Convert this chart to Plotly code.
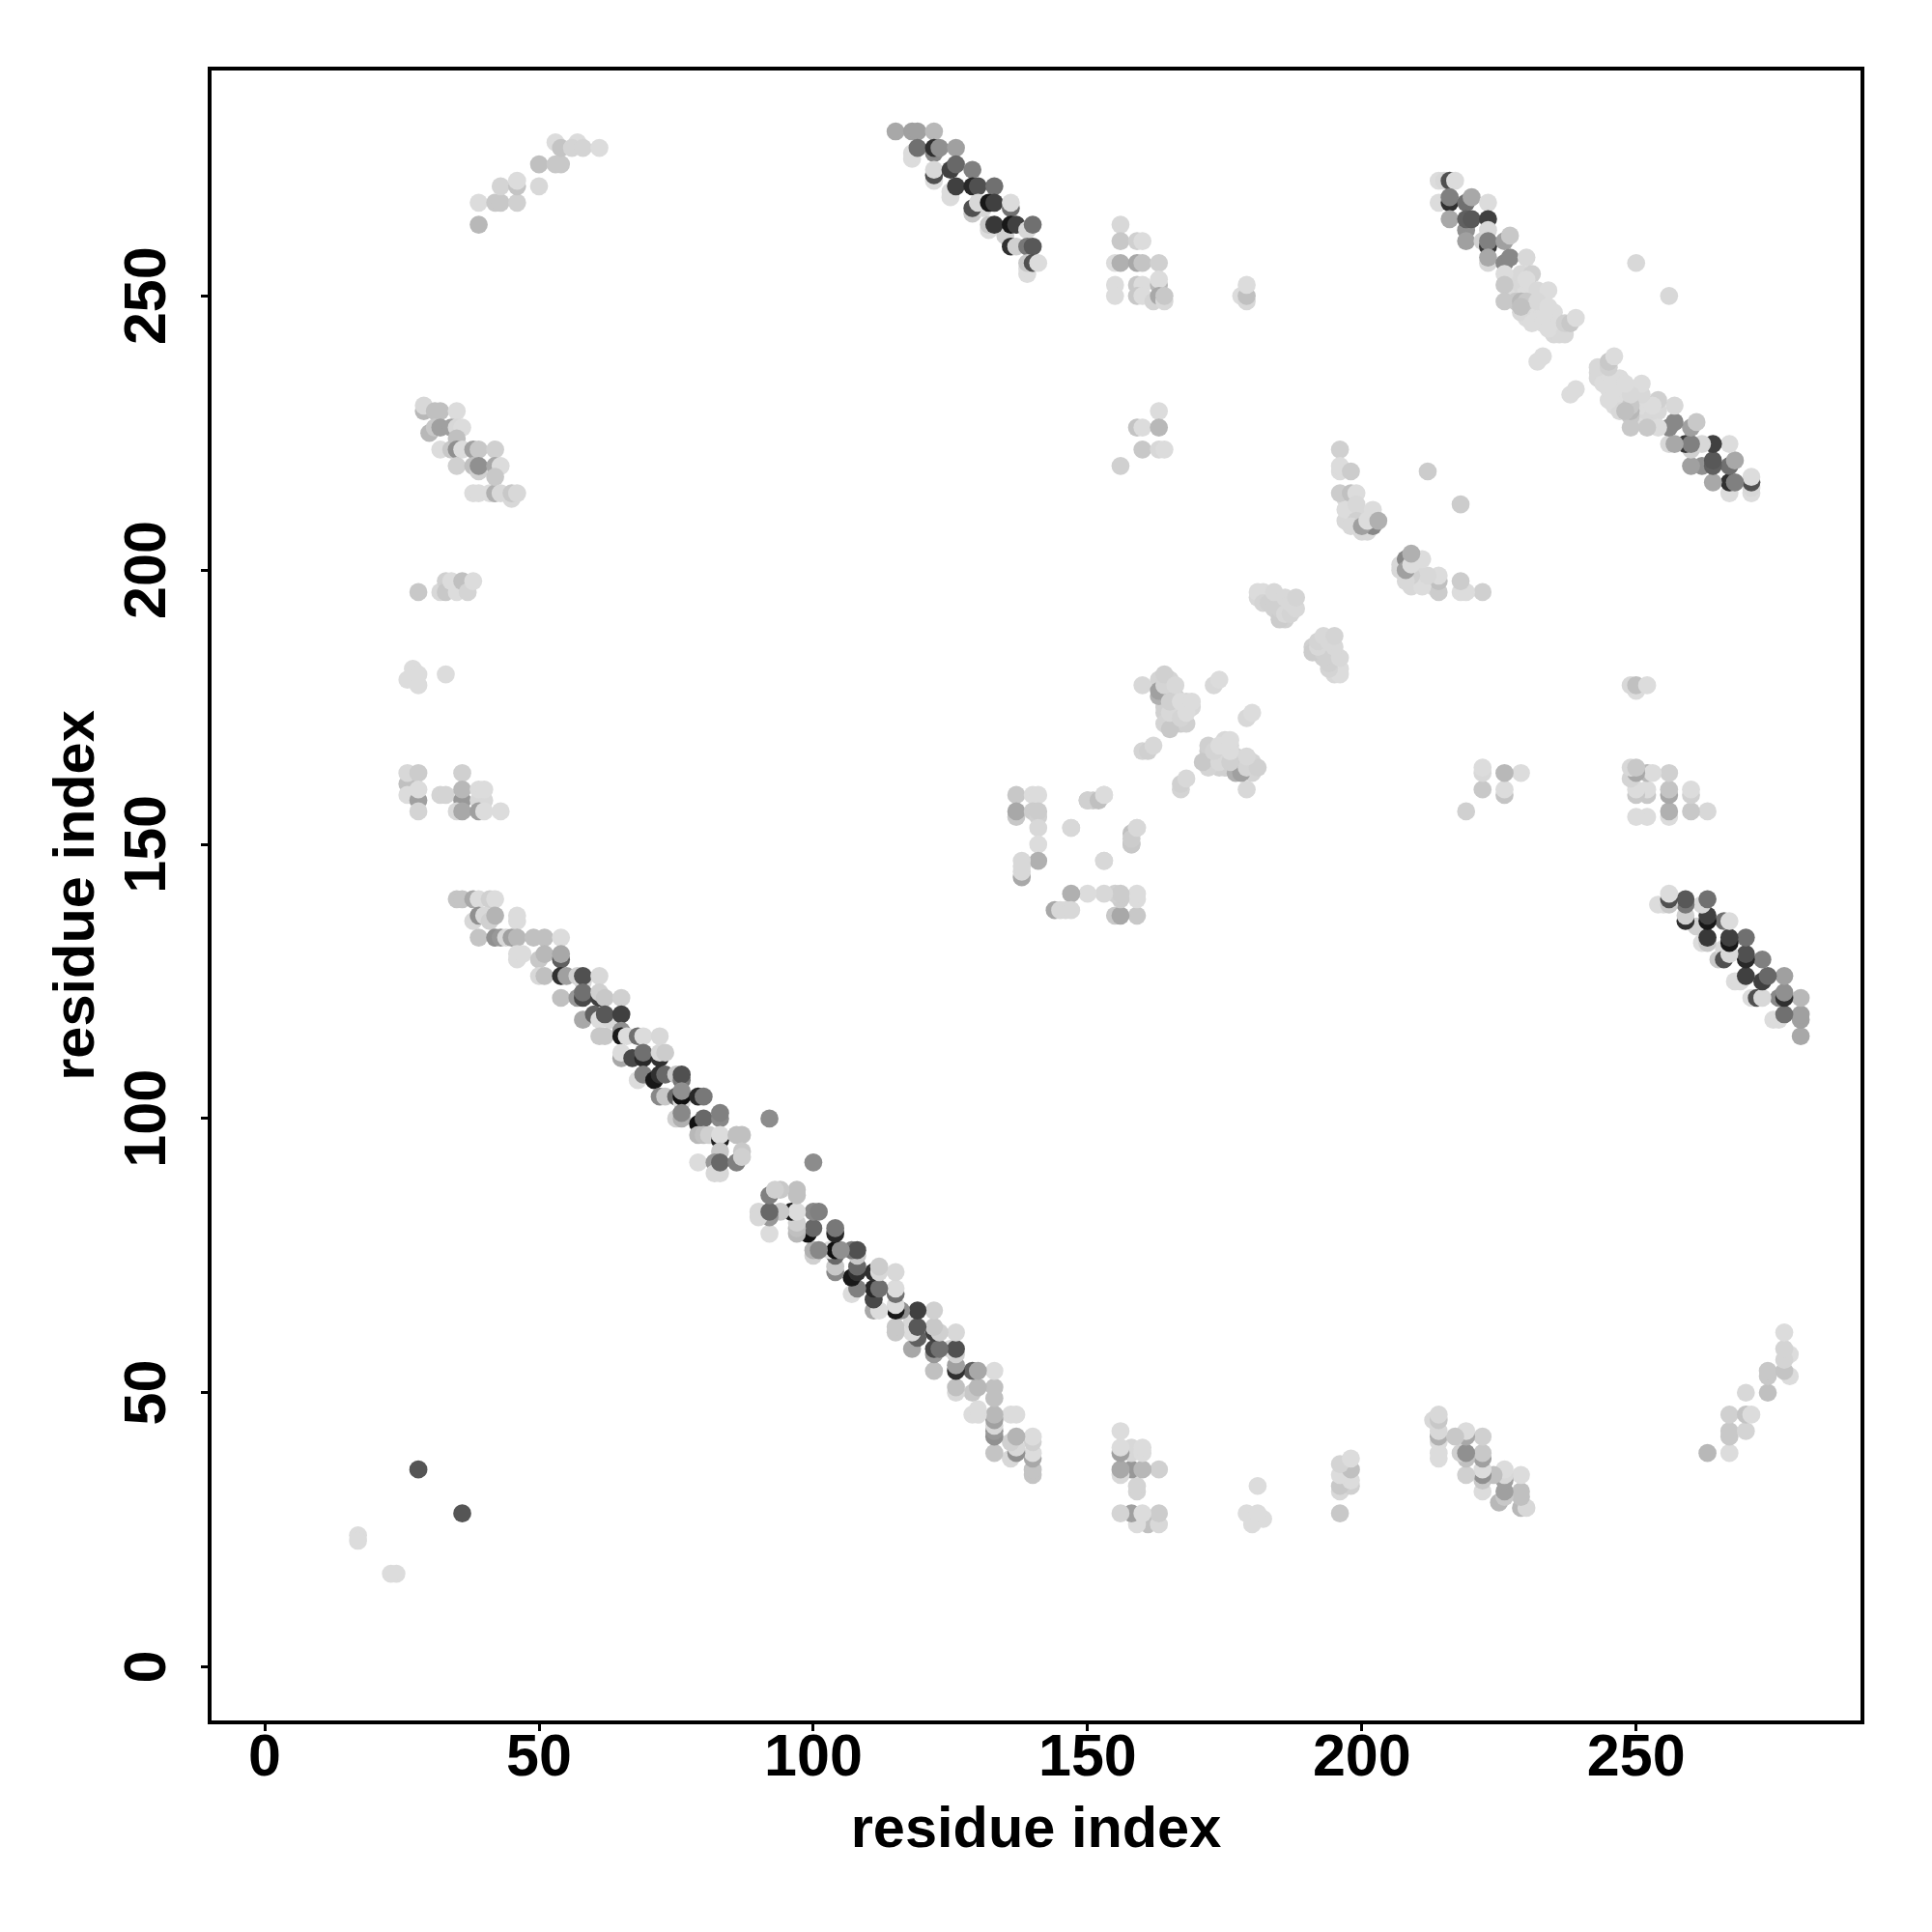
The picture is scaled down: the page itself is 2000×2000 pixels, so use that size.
import plotly.graph_objects as go

# contact pairs: (residue i, residue j, grey level); the map is symmetric
isolated = [(17,24,0xdc),(17,23,0xdc),(28,36,0x55),(92,100,0x8c),(250,256,0xd8),(212,218,0xcc)]

band_main = [
(35,140,0xc4),(36,140,0xc4),(38,140,0xa8),(39,140,0xdc),(41,140,0xd0),(42,140,0xdc),
(38,136,0xd8),(39,137,0x90),(40,137,0xd8),(41,136,0xd0),(42,137,0xb4),(46,136,0xdc),(46,137,0xdc),
(39,133,0xc4),(42,133,0x90),(43,133,0x98),(44,133,0xd8),(45,133,0xa0),(46,133,0xb8),(49,133,0xc0),(51,133,0xc0),(54,133,0xdc),
(46,129,0xdc),(46,130,0xdc),(47,130,0xdc),(50,129,0xc8),(51,130,0xb8),(54,129,0x60),(54,130,0xa8),
(50,126,0xd8),(51,126,0xc0),(54,126,0x30),(55,126,0xa0),(57,126,0xd0),(58,125,0xd8),(58,126,0x50),(61,126,0xd8),
(54,122,0xc0),(57,122,0x98),(58,122,0x48),(58,123,0x70),(61,122,0x40),(61,123,0xd0),(62,122,0xc8),(65,122,0xd0),
(58,118,0xa8),(60,119,0x60),(61,118,0xdc),(63,118,0xd8),(62,119,0x58),(65,119,0x40),
(61,115,0xc8),(62,115,0xc8),(65,116,0x90),(65,115,0x18),(66,115,0xdc),(68,115,0x70),(69,115,0xdc),(72,115,0xd8),
(65,111,0xa8),(65,112,0xdc),(67,111,0x48),(69,111,0x28),(69,112,0x70),(72,111,0x30),(72,112,0xd8),(73,112,0xcc),
(68,107,0xdc),(69,108,0x80),(71,107,0x18),(72,108,0x30),(73,108,0x68),(75,108,0xc8),(76,107,0x78),(76,108,0x50),
(72,104,0x88),(73,104,0xc8),(75,104,0x68),(76,103,0xdc),(76,104,0x10),(76,105,0x90),(79,104,0x28),(80,104,0x78),
(75,100,0xd0),(76,100,0xb0),(76,101,0x88),(79,99,0x10),(80,100,0x68),(83,100,0x88),(83,101,0x80),
(79,97,0xb8),(80,97,0xc0),(81,97,0xd0),(83,96,0x20),(83,97,0xdc),(86,97,0xc0),(87,97,0xc0),
(83,94,0xc8),(87,94,0xc8),(79,92,0xdc),(82,92,0x98),(83,90,0xd8),(82,90,0xd8),(83,92,0x68),(86,92,0x80),(87,93,0xd0),
]

block_left_top = [
(29,229,0xb8),(29,230,0xd8),(31,229,0xc0),(32,229,0xc0),(35,229,0xdc),
(30,225,0xb8),(31,226,0xc8),(32,226,0xa0),(34,226,0xa0),(35,226,0xd8),(36,226,0xdc),
(32,222,0xdc),(34,222,0xc8),(35,224,0xc0),(35,222,0x90),(36,222,0xdc),(38,222,0xa0),(39,222,0xc8),(42,222,0xd0),
(35,219,0xd0),(38,219,0xc0),(39,218,0xd0),(39,219,0x90),(42,219,0xa8),(43,219,0xdc),
(38,214,0xdc),(39,214,0xdc),(41,214,0xdc),(42,214,0xb0),(42,217,0xc8),(43,214,0xd8),(45,213,0xd8),(45,214,0xc8),(46,214,0xd8),
]

block_left_mid = [
(28,196,0xc8),(32,196,0xd8),(33,198,0xd0),(33,196,0xc8),(34,198,0xdc),(35,196,0xdc),(36,198,0xc0),(37,196,0xd4),(38,198,0xdc),
(26,180,0xdc),(27,182,0xdc),(28,179,0xdc),(28,181,0xdc),(33,181,0xdc),
(26,161,0xc0),(26,163,0xd8),(28,163,0xcc),(36,163,0xd0),
(26,159,0xdc),(28,158,0xa0),(28,160,0xdc),(32,159,0xd4),(33,159,0xd4),(36,158,0x98),(36,160,0xb8),(39,158,0xd8),(40,158,0xd8),(39,160,0xdc),(40,160,0xdc),
(28,156,0xd4),(35,156,0xd8),(36,156,0xa8),(39,156,0xa0),(40,156,0xdc),(43,156,0xdc),
]

arc_top = [
(39,263,0xb8),(39,267,0xdc),(42,267,0xc8),(43,267,0xc8),(46,267,0xd0),(43,270,0xd4),(46,270,0xc4),(46,271,0xdc),(50,270,0xd8),
(50,274,0xc0),(53,274,0xc8),(54,274,0xc8),(53,278,0xdc),(54,277,0xc4),(57,278,0xdc),(56,277,0xd4),(58,277,0xd4),(61,277,0xdc),
]

band_top_flank = [(118,275,0xdc),(122,271,0xdc),(125,268,0xdc),(129,265,0xc8),(132,262,0xdc),(135,261,0xd0),(139,254,0xdc),(131,266,0xd8)]

band_top = [
(115,280,0xa8),(118,280,0xa0),(119,280,0xa0),(122,280,0xb8),
(118,276,0xdc),(119,277,0x70),(122,276,0x88),(122,277,0x30),(123,277,0x90),(126,277,0xa0),
(122,272,0x50),(122,273,0xd8),(125,273,0x40),(126,274,0x68),(129,273,0x80),
(125,269,0xdc),(126,270,0x40),(129,270,0x28),(130,270,0x50),(133,270,0x70),
(129,266,0x50),(130,267,0xd8),(132,267,0x18),(133,267,0x40),(136,266,0x70),(136,267,0xdc),
(132,263,0xc8),(133,263,0x38),(136,263,0x18),(137,263,0x40),(139,262,0xd8),(140,263,0x70),
(136,259,0x30),(137,259,0xd0),(139,259,0x78),(140,259,0x58),
(139,255,0xdc),(139,256,0xc8),(140,256,0x50),(141,256,0xdc),
]

block_upper_mid = [
(156,263,0xd8),(156,260,0xc8),(159,260,0xd0),(160,260,0xdc),
(155,256,0xdc),(156,256,0xb0),(159,256,0xa8),(160,256,0xc4),(163,256,0xd0),
(155,252,0xdc),(159,252,0xc8),(160,252,0xdc),(163,252,0xb8),(163,253,0xdc),
(155,250,0xdc),(159,250,0xc8),(160,250,0xdc),(162,249,0xd4),(163,250,0xa8),(164,249,0xd8),(164,250,0xc8),
(178,250,0xdc),(179,249,0xd8),(179,250,0xc0),(179,252,0xdc),
(163,229,0xdc),(159,226,0xc4),(160,226,0xdc),(163,226,0xb8),(160,222,0xc8),(163,222,0xd8),(164,222,0xdc),(156,219,0xd0),
]

block_centre_low = [
(137,159,0xc8),(140,159,0xdc),(141,159,0xdc),(137,155,0xc8),(137,156,0xa8),(140,156,0xcc),(141,155,0xd0),(141,156,0xcc),
(141,153,0xd8),(141,150,0xdc),(141,147,0xb0),(138,144,0xa8),(138,145,0xd8),(138,146,0xd8),(138,147,0xd8),
(147,153,0xd8),(150,158,0xc8),(151,158,0xcc),(153,159,0xd8),(153,147,0xd8),
(158,150,0xd0),(158,152,0xc0),(159,153,0xdc),
]

centre_diagonal_under = [
(182,196,0xdc),(183,195,0xd8),(184,195,0xd8),(185,194,0xd4),(186,193,0xd4),(185,192,0xd0),(186,191,0xd0),(187,193,0xd4),
(163,180,0xd4),(164,180,0xd4),(165,180,0xd4),(165,178,0xd0),(165,177,0xcc),(166,177,0xd0),(166,175,0xd0),(166,173,0xd0),
(167,175,0xd4),(167,172,0xcc),(168,172,0xd0),(164,175,0xd0),(164,177,0xc8),(164,174,0xd0),(165,172,0xcc),(168,176,0xd8),(169,175,0xd8),
]

centre_diagonal = [
(181,195,0xd8),(181,196,0xdc),(182,194,0xd4),(183,194,0xd0),(184,193,0xd0),(185,191,0xcc),(185,193,0xd0),(186,192,0xd8),
(184,196,0xd8),(186,195,0xd8),(187,192,0xd4),(187,194,0xd8),(188,193,0xd8),(188,195,0xd4),
(160,179,0xd8),(163,177,0xb0),(163,178,0xa0),(164,172,0xd4),(165,171,0xc8),(164,179,0xd4),(164,181,0xd0),(166,179,0xd8),
(165,174,0xd8),(165,176,0xd0),(167,173,0xd4),(167,176,0xdc),(168,174,0xdc),(169,176,0xdc),
(173,179,0xd8),(174,180,0xdc),(160,167,0xd4),(161,167,0xd0),(162,168,0xd8),
]

band_right_under = [
(228,251,0xdc),(229,252,0xd8),(230,251,0xdc),(231,250,0xdc),(231,248,0xdc),(232,247,0xdc),(233,248,0xdc),(233,246,0xdc),
(235,247,0xdc),(235,245,0xdc),(230,246,0xdc),(229,247,0xd8),(228,249,0xc8),(228,253,0xd8),(229,254,0xd8),(235,243,0xd8),(236,243,0xd8),
]

band_right = [
(214,271,0xdc),(215,271,0xd8),(216,271,0x50),(217,271,0xdc),
(214,267,0xdc),(216,267,0x30),(216,268,0x80),(219,267,0x70),(220,268,0xa8),(223,267,0xdc),
(216,264,0xa8),(219,262,0x90),(219,264,0x60),(220,264,0x58),(223,264,0x40),
(219,260,0xa0),(222,260,0xd0),(223,262,0xd8),(223,259,0x38),(223,260,0x80),(226,260,0xa0),(227,261,0xc8),
(223,256,0xd8),(223,257,0xa8),(226,256,0x88),(227,257,0x88),(230,257,0xd8),
(226,254,0xdc),(231,254,0xd0),(230,253,0xdc),(226,252,0xc8),(232,251,0xd8),(234,251,0xdc),
(226,249,0xc8),(229,249,0xb8),(230,249,0xc8),(232,249,0xd8),(229,248,0xc0),(234,248,0xdc),
(231,245,0xdc),(233,245,0xdc),(234,244,0xdc),(236,245,0xdc),(237,243,0xd8),(237,245,0xd0),(238,245,0xc8),(239,246,0xdc),
(232,238,0xdc),(233,239,0xdc),
]

block_near_diag = [
(197,213,0xd8),(198,212,0xd8),(198,210,0xd4),(199,211,0xd8),(200,210,0xd8),(200,207,0xd8),(197,209,0xd8),
(196,222,0xd0),(196,218,0xdc),(196,219,0xdc),(198,218,0xcc),
(196,214,0xcc),(198,214,0xc0),(199,214,0xdc),(197,211,0xdc),(199,212,0xd8),(199,209,0xd0),(198,208,0xd8),
(201,207,0xd8),(202,208,0x88),(200,208,0xa0),(201,209,0xdc),(202,211,0xdc),(203,209,0xb0),
]

regions = [isolated, band_main, block_left_top, block_left_mid, arc_top, band_top_flank, band_top,
           block_upper_mid, block_centre_low, centre_diagonal_under, centre_diagonal,
           band_right_under, band_right, block_near_diag]

res_i = [p[0] for r in regions for p in r]
res_j = [p[1] for r in regions for p in r]
level = [p[2] for r in regions for p in r]

x_ticks = [0, 50, 100, 150, 200, 250]
y_ticks = [0, 50, 100, 150, 200, 250]

fig = go.Figure()
fig.add_trace(go.Scatter(
    x=res_i + res_j, y=res_j + res_i, mode="markers", hoverinfo="skip",
    marker=dict(size=18.7, line=dict(width=0), color=level + level,
                colorscale=[[0, "#000000"], [1, "#ffffff"]], cmin=0, cmax=255, showscale=False),
))
tick_font = dict(family="Liberation Sans", size=61, color="#000000", weight="bold")
title_font = dict(family="Liberation Sans", size=59.5, color="#000000", weight="bold")
common = dict(showgrid=False, zeroline=False, showline=True, mirror=True, linecolor="#000000", linewidth=3.8,
              ticks="outside", ticklen=7, tickwidth=3.4, tickcolor="#000000", tickfont=tick_font)
fig.update_layout(
    width=2000, height=2000, autosize=False, showlegend=False,
    paper_bgcolor="#ffffff", plot_bgcolor="#ffffff",
    margin=dict(l=210.5, r=82, t=64.5, b=226.5, pad=0),
    xaxis=dict(range=[-9.7, 290.9], tickvals=x_ticks, ticklabelstandoff=-27,
               title=dict(text="residue index", font=title_font, standoff=21), **common),
    yaxis=dict(range=[-9.76, 291.1], tickvals=y_ticks, tickangle=-90, ticklabelstandoff=13, ticklabelshift=9,
               title=dict(text="residue index", font=title_font, standoff=0), **common),
)
fig.write_html("out.html")
